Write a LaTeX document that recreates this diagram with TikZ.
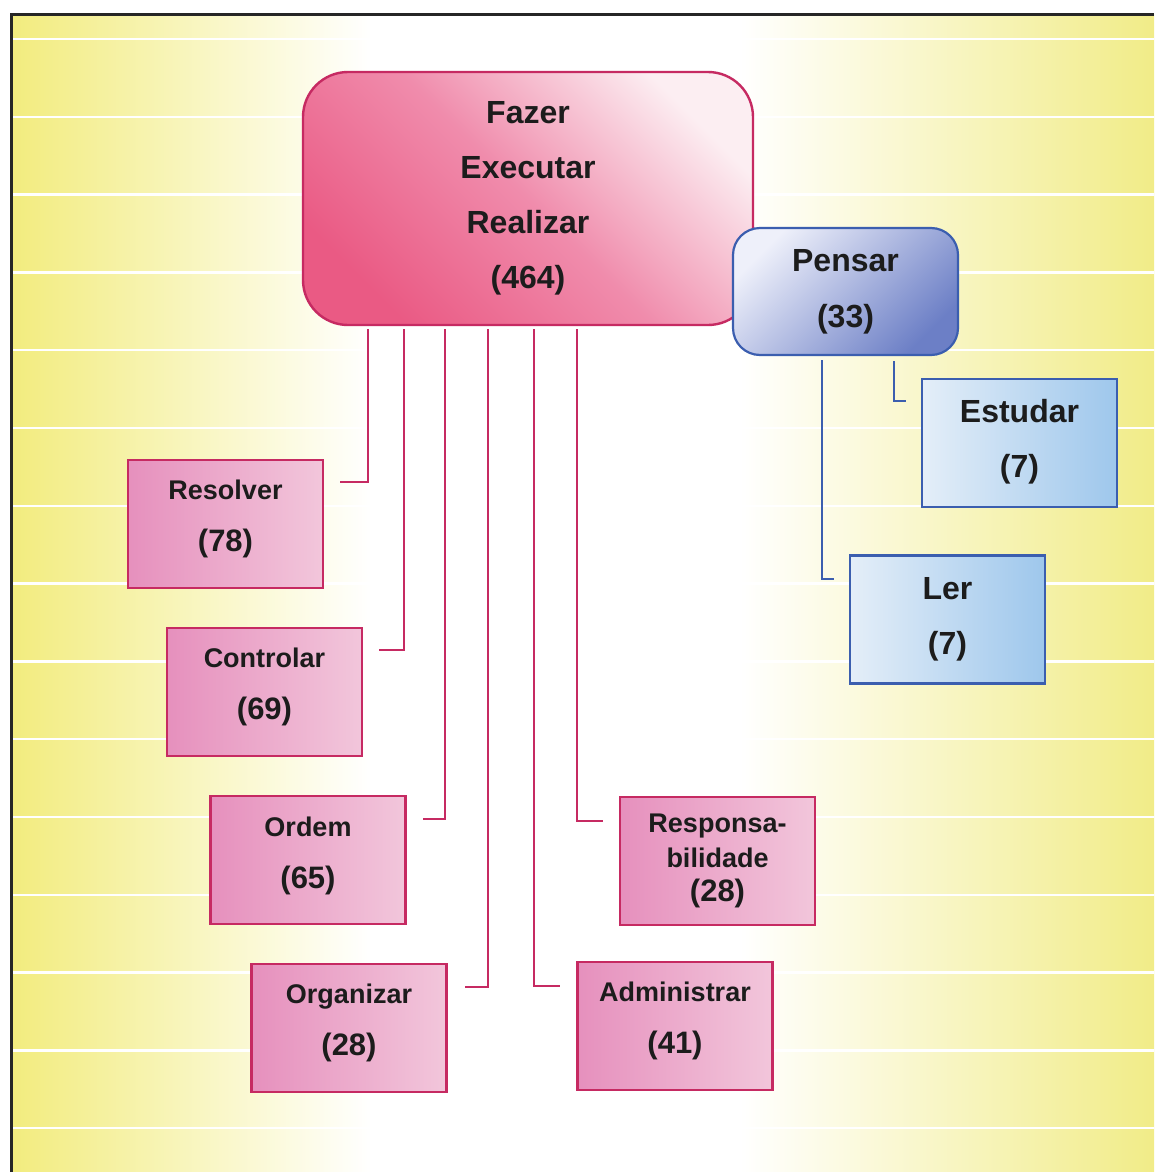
\documentclass[tikz,border=0pt]{standalone}
\usepackage{fontspec}
\setmainfont{Liberation Sans}
\definecolor{bgy1}{HTML}{F2EC7E}
\definecolor{bgy2}{HTML}{F1EC88}
\definecolor{pinkb}{HTML}{C62A62}
\definecolor{pk1}{HTML}{E690BD}
\definecolor{pk2}{HTML}{F2C6DB}
\definecolor{mn1}{HTML}{EA5A84}
\definecolor{mn3}{HTML}{F08CAC}
\definecolor{mn2}{HTML}{FCEEF2}
\definecolor{blueb}{HTML}{3B5EAF}
\definecolor{ps1}{HTML}{EEF0FA}
\definecolor{ps2}{HTML}{6C7FC6}
\definecolor{lb1}{HTML}{E4EEF8}
\definecolor{lb2}{HTML}{9EC7EC}
\definecolor{txtc}{HTML}{1C1C1C}
\newcommand\numtxt[1]{{\fontsize{31}{52}\selectfont #1}}
\newcommand\dpstrut[1]{\rule[-#1pt]{0pt}{#1pt}}
\tikzset{
  pinkbox/.style={draw=pinkb, line width=2.2pt, left color=pk1, right color=pk2,
    minimum width=195pt, minimum height=128pt, inner sep=0pt, text=txtc,
    align=center, font=\bfseries\fontsize{27}{52}\selectfont},
  bluebox/.style={draw=blueb, line width=2.2pt, left color=lb1, right color=lb2,
    minimum width=195pt, minimum height=128pt, inner sep=0pt, text=txtc,
    align=center, font=\bfseries\fontsize{32}{55}\selectfont},
  mainbox/.style={draw=pinkb, line width=2.4pt, rounded corners=45pt,
    minimum width=450pt, minimum height=253pt, inner sep=0pt,
    bottom color=mn1, top color=mn2, middle color=mn3, shading angle=-45,
    text=txtc, align=center, font=\bfseries\fontsize{32}{55}\selectfont},
  pensbox/.style={draw=blueb, line width=2.2pt, rounded corners=27pt,
    minimum width=225pt, minimum height=127pt, inner sep=0pt,
    top color=ps1, bottom color=ps2, shading angle=45,
    text=txtc, align=center, font=\bfseries\fontsize{32}{56}\selectfont},
  pinkline/.style={draw=pinkb, line width=2pt},
  blueline/.style={draw=blueb, line width=2pt},
}
\begin{document}
\begin{tikzpicture}[x=1pt,y=-1pt]
\useasboundingbox (0,0) rectangle (1154,1172);
\fill[white] (0,0) rectangle (1154,1172);
% background
\shade[left color=bgy1, right color=white] (11,15) rectangle (371,1172);
\fill[white] (370,15) rectangle (741,1172);
\shade[left color=white, right color=bgy2] (740,15) rectangle (1154,1172);
\foreach \k in {0,...,14}
  \draw[white, line width=2.5pt] (12,{39+77.8*\k}) -- (1154,{39+77.8*\k});
\draw[line width=3pt, draw=black!85] (11,1172) -- (11,15) -- (1154,15);

% nodes
\node[mainbox] (main) at (528,198.5) {Fazer\\Executar\\Realizar\\(464)\dpstrut{5}};
\node[pensbox] (pensar) at (845.5,291.5) {Pensar\\(33)\dpstrut{0}};
\node[bluebox] (estudar) at (1019.5,443) {Estudar\\(7)\dpstrut{9}};
\node[bluebox] (ler) at (947.5,619.5) {Ler\\(7)\dpstrut{8}};
\node[pinkbox] (resolver) at (225.5,524) {Resolver\\\numtxt{(78)}\dpstrut{16}};
\node[pinkbox] (controlar) at (264.5,692) {Controlar\\\numtxt{(69)}\dpstrut{16}};
\node[pinkbox] (ordem) at (308,860) {Ordem\\\numtxt{(65)}\dpstrut{14}};
\node[pinkbox, font=\bfseries\fontsize{27}{34.5}\selectfont] (respons) at (717.5,861)
  {Responsa-\\bilidade\\{\fontsize{31}{34.5}\selectfont (28)}};
\node[pinkbox] (organizar) at (349,1028) {Organizar\\\numtxt{(28)}\dpstrut{16}};
\node[pinkbox] (administrar) at (675,1026) {Administrar\\\numtxt{(41)}\dpstrut{16}};

% connectors from main
\coordinate (m1) at ([xshift=66pt,yshift=-3pt]main.south west);
\coordinate (m2) at ([xshift=102pt,yshift=-3pt]main.south west);
\coordinate (m3) at ([xshift=143pt,yshift=-3pt]main.south west);
\coordinate (m4) at ([xshift=186pt,yshift=-3pt]main.south west);
\coordinate (m5) at ([xshift=232pt,yshift=-3pt]main.south west);
\coordinate (m6) at ([xshift=275pt,yshift=-3pt]main.south west);
\draw[pinkline] (m1) |- ([xshift=16pt,yshift=-23pt]resolver.north east);
\draw[pinkline] (m2) |- ([xshift=16pt,yshift=-23pt]controlar.north east);
\draw[pinkline] (m3) |- ([xshift=16pt,yshift=-24pt]ordem.north east);
\draw[pinkline] (m4) |- ([xshift=17pt,yshift=-24pt]organizar.north east);
\draw[pinkline] (m5) |- ([xshift=-16pt,yshift=-25pt]administrar.north west);
\draw[pinkline] (m6) |- ([xshift=-16pt,yshift=-25pt]respons.north west);

% connectors from Pensar
\coordinate (p1) at ([xshift=90pt,yshift=-4pt]pensar.south west);
\coordinate (p2) at ([xshift=162pt,yshift=-5pt]pensar.south west);
\draw[blueline] (p1) |- ([xshift=-15pt,yshift=-25pt]ler.north west);
\draw[blueline] (p2) |- ([xshift=-15pt,yshift=-23pt]estudar.north west);
\end{tikzpicture}
\end{document}
